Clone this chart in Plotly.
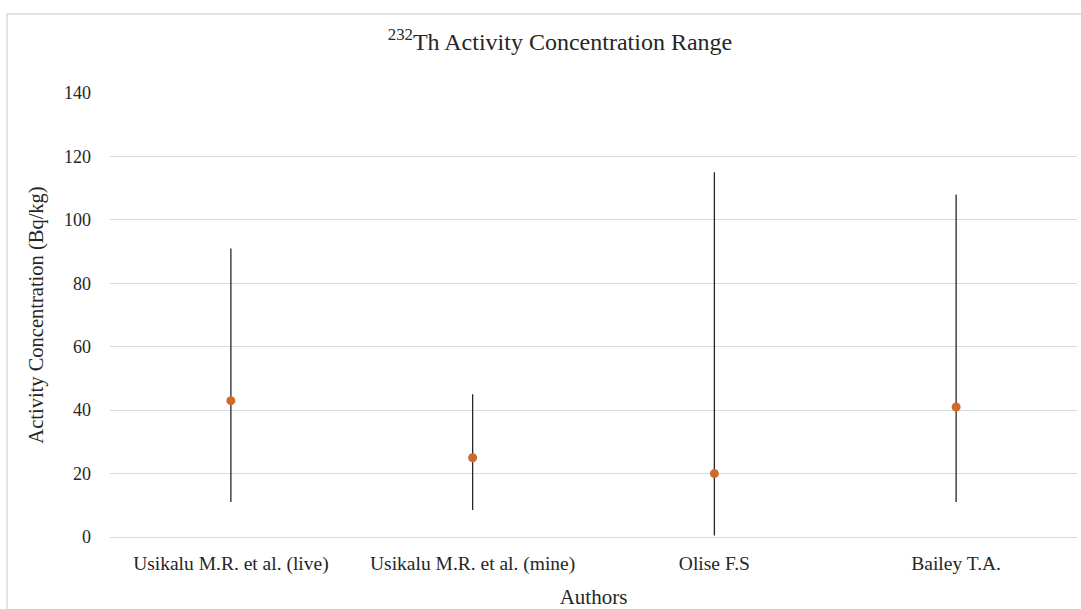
import plotly.graph_objects as go

authors = ["Usikalu M.R. et al. (live)", "Usikalu M.R. et al. (mine)", "Olise F.S", "Bailey T.A."]
mean_vals = [43, 25, 20, 41]
max_vals = [91, 45, 115, 108]
min_vals = [11, 8.5, 0.5, 11]
y_ticks = [0, 20, 40, 60, 80, 100, 120, 140]

err_plus = [mx - m for mx, m in zip(max_vals, mean_vals)]
err_minus = [m - mn for m, mn in zip(mean_vals, min_vals)]

font_family = "Liberation Serif, Times New Roman, serif"
text_color = "#262626"

fig = go.Figure()
fig.add_trace(go.Scatter(
    x=authors, y=mean_vals, mode="markers",
    marker=dict(color="#D0692B", size=9),
    error_y=dict(type="data", symmetric=False, array=err_plus, arrayminus=err_minus,
                 color="#262626", thickness=1.3, width=0),
    showlegend=False,
))

W, H = 1081, 609
L, R, T, B = 110, 4, 93, 72
pw, ph = W - L - R, H - T - B

def px(x):
    return (x - L) / pw

def py(y):
    return (H - B - y) / ph

fig.update_layout(
    width=W, height=H,
    margin=dict(l=L, r=R, t=T, b=B),
    paper_bgcolor="white", plot_bgcolor="white",
    font=dict(family=font_family, color=text_color, size=18),
    title=dict(text="<sup>232</sup>Th Activity Concentration Range",
               x=560 / W, xanchor="center",
               y=1 - 42 / H, yanchor="middle",
               font=dict(size=24, color=text_color, family=font_family)),
    xaxis=dict(type="category", range=[-0.5, 3.5], showgrid=False, showline=False,
               zeroline=False, ticks="", ticklabelstandoff=12,
               tickfont=dict(size=19.5, color=text_color),
               title=dict(text="Authors", standoff=16,
                          font=dict(size=21, color=text_color))),
    yaxis=dict(range=[0, 140], tickvals=y_ticks, showgrid=True,
               gridcolor="#D9D9D9", gridwidth=1, zeroline=True,
               zerolinecolor="#D9D9D9", zerolinewidth=1, showline=False,
               ticks="", ticklabelstandoff=18,
               tickfont=dict(size=18, color=text_color),
               title=dict(text="Activity Concentration (Bq/kg)", standoff=14,
                          font=dict(size=20.5, color=text_color))),
    shapes=[dict(type="rect", xref="paper", yref="paper",
                 x0=px(7), x1=px(W + 20), y0=py(H + 20), y1=py(14),
                 line=dict(color="#D9D9D9", width=1.5), fillcolor="rgba(0,0,0,0)",
                 layer="below")],
)

fig.write_html("out.html")
